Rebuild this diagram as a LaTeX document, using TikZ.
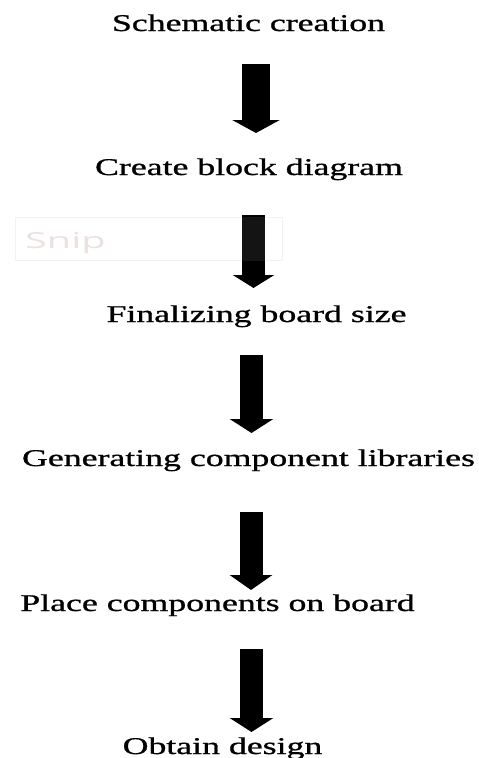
\documentclass[tikz,border=0pt]{standalone}
\usepackage{fontspec}
\setmainfont[FakeBold=0.8]{Liberation Serif}
\newfontfamily\snipfont{Open Sans}
\usetikzlibrary{arrows.meta}
\definecolor{snipborder}{HTML}{EDF2F8}
\definecolor{sniptext}{HTML}{EAE2DE}
\tikzset{
  steptext/.style={anchor=base, inner sep=0pt, font=\fontsize{24}{28}\selectfont},
  bigarrow/.style={line width=23pt, -{Triangle[width=43pt,length=14pt]}},
  snipbox/.style={draw=snipborder, line width=1pt, minimum width=267pt, minimum height=43pt, inner sep=0pt},
}
\newcommand{\wide}[1]{\scalebox{1.49}[1]{#1}}
\begin{document}
\begin{tikzpicture}[x=1pt,y=-1pt]
\useasboundingbox (0,0) rectangle (479,758);
\fill[white] (0,0) rectangle (479,758);
% text nodes
\node[steptext] (t1) at (248.5,31) {\wide{Schematic creation}};
\node[steptext] (t2) at (249,175) {\wide{Create block diagram}};
\node[steptext] (t3) at (256.5,322) {\wide{Finalizing board size}};
\node[steptext] (t4) at (248.5,466) {\wide{Generating component libraries}};
\node[steptext] (t5) at (217.5,611) {\wide{Place components on board}};
\node[steptext] (t6) at (222.5,754) {\wide{Obtain design}};
% faint snip overlay frame
\node[snipbox] (snip) at (148.5,238.5) {};
% arrow ends
\coordinate (a1s) at (256,64);   \coordinate (a1e) at (256,133);
\coordinate (a2s) at (253.5,215); \coordinate (a2e) at (253.5,288);
\coordinate (a3s) at (251.5,355); \coordinate (a3e) at (251.5,433);
\coordinate (a4s) at (251,512);   \coordinate (a4e) at (251,590);
\coordinate (a5s) at (251.5,649); \coordinate (a5e) at (251.5,732);
\draw[bigarrow, line width=28pt, -{Triangle[width=47pt,length=13pt]}] (a1s) -- (a1e);
\draw[bigarrow, -{Triangle[width=41pt,length=13pt]}] (a2s) -- (a2e);
\draw[bigarrow] (a3s) -- (a3e);
\draw[bigarrow, -{Triangle[width=42pt,length=15pt]}] (a4s) -- (a4e);
\draw[bigarrow] (a5s) -- (a5e);
% translucent snip veil over the arrow
\fill[white, fill opacity=0.08] (snip.north west) rectangle (snip.south east);
\node[anchor=base west, inner sep=0pt, text=sniptext, font=\snipfont\fontsize{22}{26}\selectfont] (sniplabel) at (25,248) {\scalebox{1.8}[1]{Snip}};
\end{tikzpicture}
\end{document}
